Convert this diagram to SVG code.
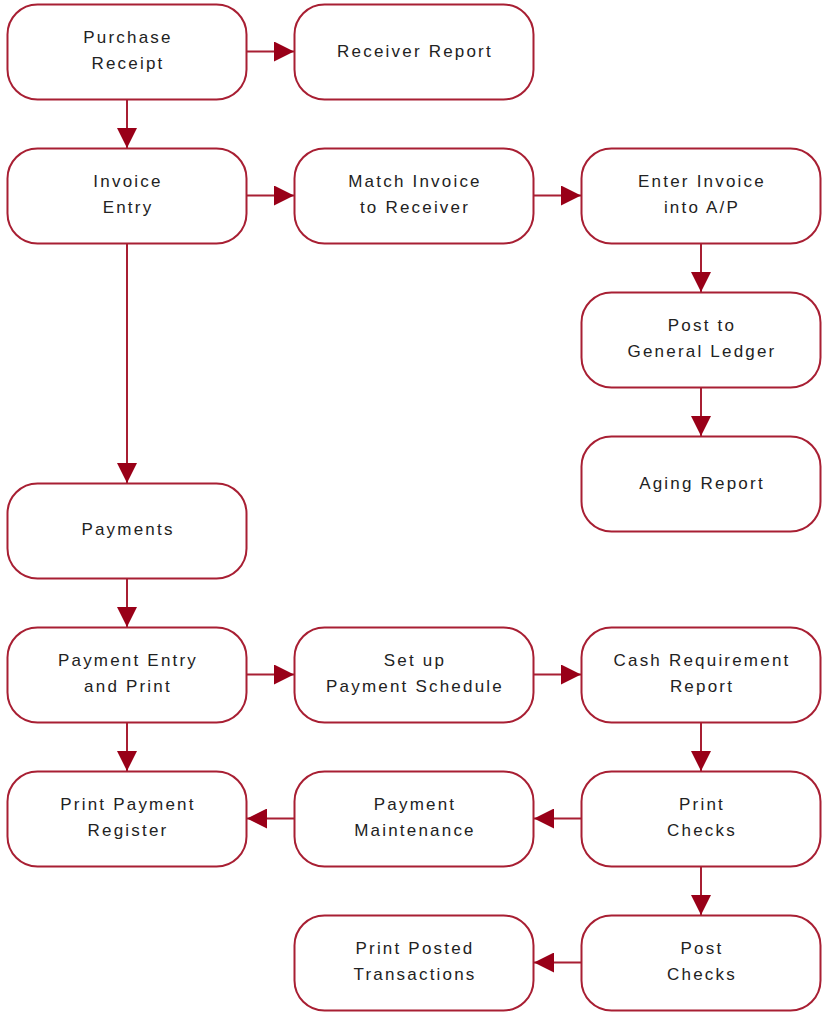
<svg xmlns="http://www.w3.org/2000/svg" width="823" height="1013" viewBox="0 0 823 1013">
<style>
.box{fill:#fff;stroke:#a81f33;stroke-width:2}
.lbl{font-family:"Liberation Sans",Arial,sans-serif;font-size:17px;letter-spacing:2.2px;fill:#222;text-anchor:middle}
.con{fill:none;stroke:#a81f33;stroke-width:2}
</style>
<defs>
<marker id="ah" markerUnits="userSpaceOnUse" markerWidth="20" markerHeight="20" viewBox="0 0 20 20" refX="20" refY="10" orient="auto">
<path d="M0,0 L20,10 L0,20 z" fill="#990018"/>
</marker>
</defs>
<rect width="823" height="1013" fill="#fff"/>
<g id="connectors">
<line class="con" x1="247" y1="51.5" x2="294" y2="51.5" marker-end="url(#ah)"/>
<line class="con" x1="127" y1="100" x2="127" y2="148" marker-end="url(#ah)"/>
<line class="con" x1="247" y1="195.5" x2="294" y2="195.5" marker-end="url(#ah)"/>
<line class="con" x1="534" y1="195.5" x2="581" y2="195.5" marker-end="url(#ah)"/>
<line class="con" x1="701" y1="244" x2="701" y2="292" marker-end="url(#ah)"/>
<line class="con" x1="701" y1="388" x2="701" y2="436" marker-end="url(#ah)"/>
<line class="con" x1="127" y1="244" x2="127" y2="483" marker-end="url(#ah)"/>
<line class="con" x1="127" y1="579" x2="127" y2="627" marker-end="url(#ah)"/>
<line class="con" x1="247" y1="674.5" x2="294" y2="674.5" marker-end="url(#ah)"/>
<line class="con" x1="534" y1="674.5" x2="581" y2="674.5" marker-end="url(#ah)"/>
<line class="con" x1="701" y1="723" x2="701" y2="771" marker-end="url(#ah)"/>
<line class="con" x1="127" y1="723" x2="127" y2="771" marker-end="url(#ah)"/>
<line class="con" x1="581" y1="818.5" x2="534" y2="818.5" marker-end="url(#ah)"/>
<line class="con" x1="294" y1="818.5" x2="247" y2="818.5" marker-end="url(#ah)"/>
<line class="con" x1="701" y1="867" x2="701" y2="915" marker-end="url(#ah)"/>
<line class="con" x1="581" y1="962.5" x2="534" y2="962.5" marker-end="url(#ah)"/>
</g>
<g id="purchase-receipt"><rect class="box" x="7.5" y="4.5" width="239" height="95" rx="30"/><text class="lbl" x="128" y="43">Purchase</text><text class="lbl" x="128" y="69">Receipt</text></g>
<g id="receiver-report"><rect class="box" x="294.5" y="4.5" width="239" height="95" rx="30"/><text class="lbl" x="415" y="57">Receiver Report</text></g>
<g id="invoice-entry"><rect class="box" x="7.5" y="148.5" width="239" height="95" rx="30"/><text class="lbl" x="128" y="187">Invoice</text><text class="lbl" x="128" y="213">Entry</text></g>
<g id="match-invoice"><rect class="box" x="294.5" y="148.5" width="239" height="95" rx="30"/><text class="lbl" x="415" y="187">Match Invoice</text><text class="lbl" x="415" y="213">to Receiver</text></g>
<g id="enter-invoice"><rect class="box" x="581.5" y="148.5" width="239" height="95" rx="30"/><text class="lbl" x="702" y="187">Enter Invoice</text><text class="lbl" x="702" y="213">into A/P</text></g>
<g id="post-gl"><rect class="box" x="581.5" y="292.5" width="239" height="95" rx="30"/><text class="lbl" x="702" y="331">Post to</text><text class="lbl" x="702" y="357">General Ledger</text></g>
<g id="aging-report"><rect class="box" x="581.5" y="436.5" width="239" height="95" rx="30"/><text class="lbl" x="702" y="489">Aging Report</text></g>
<g id="payments"><rect class="box" x="7.5" y="483.5" width="239" height="95" rx="30"/><text class="lbl" x="128" y="535">Payments</text></g>
<g id="payment-entry"><rect class="box" x="7.5" y="627.5" width="239" height="95" rx="30"/><text class="lbl" x="128" y="666">Payment Entry</text><text class="lbl" x="128" y="692">and Print</text></g>
<g id="setup-schedule"><rect class="box" x="294.5" y="627.5" width="239" height="95" rx="30"/><text class="lbl" x="415" y="666">Set up</text><text class="lbl" x="415" y="692">Payment Schedule</text></g>
<g id="cash-requirement"><rect class="box" x="581.5" y="627.5" width="239" height="95" rx="30"/><text class="lbl" x="702" y="666">Cash Requirement</text><text class="lbl" x="702" y="692">Report</text></g>
<g id="print-register"><rect class="box" x="7.5" y="771.5" width="239" height="95" rx="30"/><text class="lbl" x="128" y="810">Print Payment</text><text class="lbl" x="128" y="836">Register</text></g>
<g id="payment-maintenance"><rect class="box" x="294.5" y="771.5" width="239" height="95" rx="30"/><text class="lbl" x="415" y="810">Payment</text><text class="lbl" x="415" y="836">Maintenance</text></g>
<g id="print-checks"><rect class="box" x="581.5" y="771.5" width="239" height="95" rx="30"/><text class="lbl" x="702" y="810">Print</text><text class="lbl" x="702" y="836">Checks</text></g>
<g id="print-posted"><rect class="box" x="294.5" y="915.5" width="239" height="95" rx="30"/><text class="lbl" x="415" y="954">Print Posted</text><text class="lbl" x="415" y="980">Transactions</text></g>
<g id="post-checks"><rect class="box" x="581.5" y="915.5" width="239" height="95" rx="30"/><text class="lbl" x="702" y="954">Post</text><text class="lbl" x="702" y="980">Checks</text></g>
</svg>
